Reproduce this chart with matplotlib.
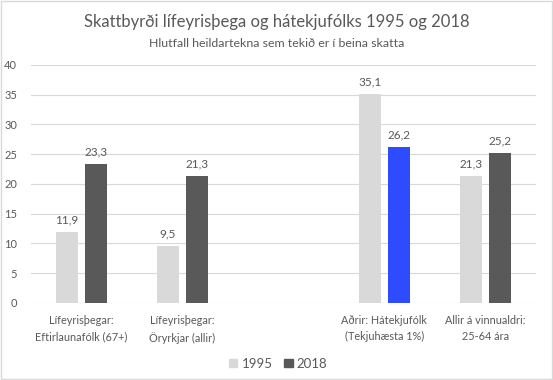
import numpy as np
import matplotlib.pyplot as plt
from matplotlib.patches import Rectangle

# Data
categories = ["Lífeyrisþegar:\nEftirlaunafólk (67+)", "Lífeyrisþegar:\nÖryrkjar (allir)", "",
              "Aðrir: Hátekjufólk\n(Tekjuhæsta 1%)", "Allir á vinnualdri:\n25-64 ára"]
v1995 = [11.9, 9.5, np.nan, 35.1, 21.3]
v2018 = [23.3, 21.3, np.nan, 26.2, 25.2]
colors2018 = ["#595959", "#595959", "#595959", "#2e4bff", "#595959"]

plt.rcParams['font.family'] = ['Lato', 'DejaVu Sans']
txt = "#595959"

fig = plt.figure(figsize=(5.53, 3.8), dpi=100)
ax = fig.add_axes([0.056, 0.203, 0.913, 0.626])

x = np.arange(len(categories))
w = 0.223
off = 0.144
b1 = ax.bar(x - off, v1995, w, color="#d9d9d9", label="1995", zorder=3)
b2 = ax.bar(x + off, v2018, w, color=colors2018, label="2018", zorder=3)

for bars, vals in [(b1, v1995), (b2, v2018)]:
    for b, v in zip(bars, vals):
        if np.isnan(v):
            continue
        ax.text(b.get_x() + b.get_width() / 2, v + 1.1, f"{v:.1f}".replace(".", ","),
                ha="center", va="bottom", fontsize=8.5, color=txt)

ax.set_xlim(-0.5, len(categories) - 0.5)
ax.set_ylim(0, 40)
ax.set_yticks(range(0, 41, 5))
ax.set_xticks(x)
ax.set_xticklabels(categories, fontsize=7.8, color=txt, linespacing=1.55)
ax.tick_params(axis="y", length=0, pad=10, labelsize=8, labelcolor=txt)
ax.tick_params(axis="x", length=0, pad=9)
ax.grid(axis="y", color="#d9d9d9", linewidth=0.8, zorder=0)
for s in ax.spines.values():
    s.set_visible(False)

fig.text(0.5, 0.943, "Skattbyrði lífeyrisþega og hátekjufólks 1995 og 2018",
         ha="center", va="center", fontsize=12, color=txt)
fig.text(0.5, 0.886, "Hlutfall heildartekna sem tekið er í beina skatta",
         ha="center", va="center", fontsize=8.9, color=txt)

h1 = Rectangle((0, 0), 1, 1, color="#d9d9d9")
h2 = Rectangle((0, 0), 1, 1, color="#595959")
fig.legend([h1, h2], ["1995", "2018"], loc="center", bbox_to_anchor=(0.503, 0.043),
           ncol=2, frameon=False, fontsize=9.5, labelcolor=txt,
           handlelength=0.65, handleheight=0.65, handletextpad=0.3, columnspacing=0.9)

fig.patches.append(Rectangle((0.002, 0.003), 0.996, 0.994, transform=fig.transFigure,
                             fill=False, edgecolor="#d9d9d9", linewidth=1))

fig.savefig("out.png", dpi=100)
